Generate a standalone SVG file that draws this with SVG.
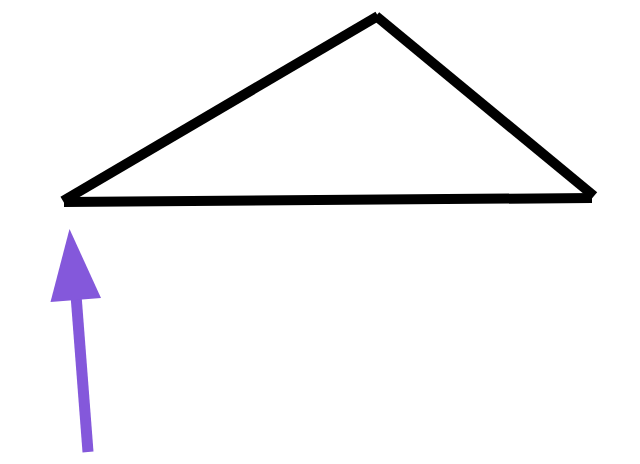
<svg xmlns="http://www.w3.org/2000/svg" width="640" height="464" viewBox="0 0 640 464">
<style>
.edge{stroke:#000;stroke-width:10;fill:none;stroke-linecap:butt}
.arrow{stroke:#8458db;stroke-width:11;fill:none}
.head{fill:#8458db}
</style>
<rect width="640" height="464" fill="#fff"/>
<g id="triangle">
<line class="edge" x1="63" y1="201" x2="378" y2="16"/>
<line class="edge" x1="376" y1="16" x2="594" y2="196"/>
<line class="edge" x1="64" y1="202" x2="592" y2="198"/>
</g>
<g id="connectors">
<line class="arrow" x1="88" y1="452" x2="76" y2="295"/>
<polygon class="head" points="69.5,229 101,298 50.5,302"/>
</g>
</svg>
